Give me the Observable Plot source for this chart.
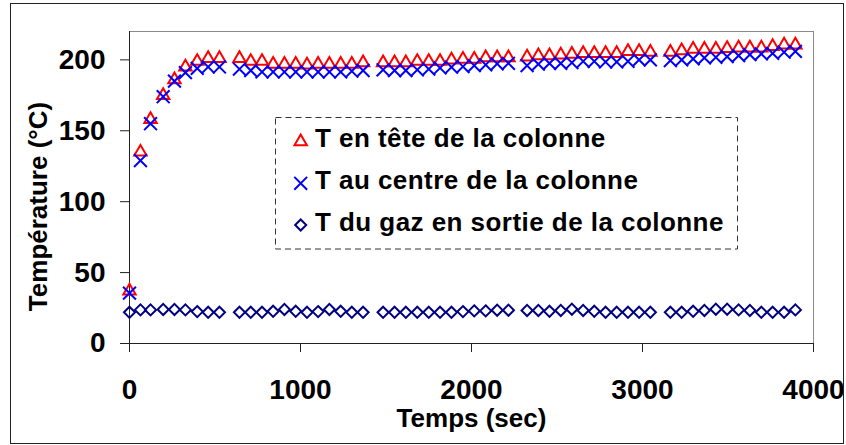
<!DOCTYPE html>
<html><head><meta charset="utf-8">
<script src="https://cdn.jsdelivr.net/npm/d3@7"></script>
<script src="https://cdn.jsdelivr.net/npm/@observablehq/plot@0.6"></script>
<style>
html,body{margin:0;padding:0;background:#fff;}
#wrap{position:relative;width:846px;height:445px;overflow:hidden;background:#fff;}
#wrap svg{position:absolute;left:0;top:0;}
</style></head><body><div id="wrap"></div>
<script>
// Time (s)
const times = [
  0, 64, 123, 197, 263, 327, 396, 460, 526,
  643, 709, 775, 840, 906, 972, 1038, 1103, 1169, 1235, 1300, 1366,
  1483, 1550, 1616, 1683, 1750, 1816, 1883, 1950, 2016, 2083, 2150, 2216,
  2325, 2391, 2456, 2522, 2587, 2653, 2718, 2784, 2849, 2915, 2980, 3046,
  3163, 3229, 3296, 3362, 3429, 3495, 3562, 3628, 3695, 3761, 3828, 3894
];
// T en tête de la colonne
const tHead = [
  37, 135, 158, 175, 186, 195, 199, 201, 201,
  201, 199, 199, 197, 197, 197, 196.5, 197, 197, 197, 197, 198,
  198, 198, 198, 199, 199, 199, 200, 200.5, 200.5, 201.5, 201.5, 201.5,
  202, 203, 203, 203.5, 204, 204.5, 204.5, 204.5, 204.5, 206, 206, 205.5,
  205.5, 206.5, 207.5, 207.5, 207.5, 208, 208.5, 208.5, 208.5, 209.5, 210.5, 210.5
];
// T au centre de la colonne
const tCenter = [
  35.5, 129, 155, 174, 185, 191, 194, 195, 195,
  193.5, 192.5, 191.5, 191.5, 191.5, 191.5, 191.5, 191.5, 191.5, 191.5, 192, 192.5,
  193, 192.5, 192.5, 193, 193.5, 194.3, 194.8, 195.3, 196, 196.5, 197.2, 197.6,
  196, 197, 197.5, 197.5, 198, 199, 199, 198.5, 198.5, 199, 200, 200,
  199.5, 200, 200.7, 201.4, 201.8, 202.3, 203, 203.7, 204.2, 204.6, 205.4, 206
];
// T du gaz en sortie de la colonne
const tGas = [
  22, 23.7, 23.7, 24, 24, 23.7, 22.5, 22, 22,
  22, 22, 22, 22.7, 24, 22.7, 22, 22.5, 24, 22.7, 22, 22,
  22, 22, 22, 22, 22, 22, 22, 22.5, 23, 23, 23.5, 23.5,
  23.3, 23.3, 22.7, 23.3, 24.2, 23.3, 22.7, 22, 22, 22, 22, 22,
  22, 22, 22.7, 23.3, 24.2, 24.2, 23.7, 23.3, 22, 22, 22, 23.7
];
const seriesNames = ["T en tête de la colonne", "T au centre de la colonne", "T du gaz en sortie de la colonne"];
const xTicks = [0, 1000, 2000, 3000, 4000];
const yTicks = [0, 50, 100, 150, 200];
const xTitle = "Temps (sec)";
const yTitle = "Température (°C)";

const font = "'Liberation Sans', Arial, Helvetica, sans-serif";
const rTri = 4.6, rX = 5.9, rDia = 5.0;
const styles = [
  {symbol: "triangle", r: rTri, color: "#FF0000"},
  {symbol: "times", r: rX, color: "#0000FF"},
  {symbol: "diamond2", r: rDia, color: "#000080"}
];
const rows = times.map((t, i) => ({t, head: tHead[i], center: tCenter[i], gas: tGas[i]}));
const keys = ["head", "center", "gas"];

const chart = Plot.plot({
  width: 846, height: 445,
  marginLeft: 129, marginRight: 33, marginTop: 31, marginBottom: 102,
  style: {fontFamily: font, fontSize: "28px", fontWeight: "bold", color: "#000", background: "transparent", overflow: "visible"},
  x: {domain: [0, 4000], label: null},
  y: {domain: [0, 220], label: null},
  marks: [
    Plot.frame({stroke: "#8a8a8a"}),
    Plot.axisY(yTicks, {tickSize: 9, tickPadding: 15, tickFormat: d3.format("d"), fontSize: 28, fontWeight: "bold", label: null, stroke: "#222"}),
    Plot.axisX(xTicks, {tickSize: 9, tickPadding: 27, tickFormat: d3.format("d"), fontSize: 28, fontWeight: "bold", label: null, stroke: "#222"}),
    Plot.ruleX([0], {stroke: "#222"}),
    Plot.ruleY([0], {stroke: "#222"}),
    ...keys.map((k, i) => Plot.dot(rows, {
      x: "t", y: k, symbol: () => styles[i].symbol, r: styles[i].r,
      stroke: styles[i].color, strokeWidth: 2, fill: "none"
    })),
    Plot.text([xTitle], {frameAnchor: "bottom", dy: 75, textAnchor: "middle", lineAnchor: "middle", fontSize: 26, fontWeight: "bold", fill: "#000"}),
    Plot.text([yTitle], {frameAnchor: "left", dx: -91, dy: 19, rotate: -90, textAnchor: "middle", lineAnchor: "middle", fontSize: 26, fontWeight: "bold", fill: "#000"})
  ]
});
document.getElementById("wrap").appendChild(chart);

// Overlay: outer border and legend
const ov = d3.select("#wrap").append("svg").attr("width", 846).attr("height", 445)
  .style("pointer-events", "none");
ov.append("rect").attr("x", 10.5).attr("y", 3.5).attr("width", 833).attr("height", 440)
  .attr("fill", "none").attr("stroke", "#222").attr("stroke-width", 1);
const lg = ov.append("g");
lg.append("rect").attr("x", 275.5).attr("y", 117.5).attr("width", 462).attr("height", 131.5)
  .attr("fill", "#fff").attr("stroke", "#333").attr("stroke-dasharray", "6,4");
const symMap = {triangle: d3.symbolTriangle, times: d3.symbolTimes, diamond2: d3.symbolDiamond2};
const legY = [141.7, 183.3, 225];
seriesNames.forEach((name, i) => {
  const s = styles[i];
  lg.append("path")
    .attr("d", d3.symbol(symMap[s.symbol], Math.PI * s.r * s.r)())
    .attr("transform", `translate(300.7,${legY[i]})`)
    .attr("fill", "none").attr("stroke", s.color).attr("stroke-width", 2);
  lg.append("text").attr("x", 315).attr("y", legY[i] + 5.5)
    .attr("font-family", font).attr("font-size", 26).attr("font-weight", "bold")
    .attr("letter-spacing", 0.45).attr("fill", "#000").text(name);
});
</script>
</body></html>
